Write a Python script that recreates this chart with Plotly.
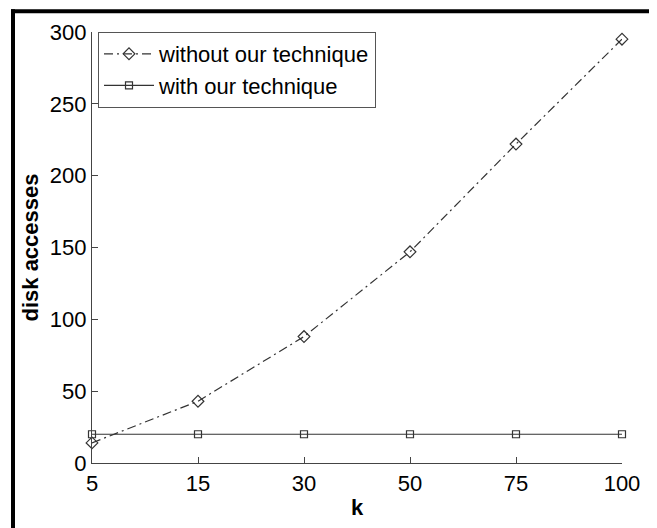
import plotly.graph_objects as go

k_labels = ["5", "15", "30", "50", "75", "100"]
without_vals = [14, 43, 88, 147, 222, 295]
with_vals = [20, 20, 20, 20, 20, 20]
y_ticks = [0, 50, 100, 150, 200, 250, 300]

fig = go.Figure()
fig.add_trace(go.Scatter(
    x=k_labels, y=without_vals, name="without our technique",
    mode="lines+markers",
    line=dict(color="#333333", width=1.2, dash="9px,4px,2px,4px"),
    marker=dict(symbol="diamond-open", size=9, color="#333333", line=dict(width=1.2)),
    cliponaxis=False,
))
fig.add_trace(go.Scatter(
    x=k_labels, y=with_vals, name="with our technique",
    mode="lines+markers",
    line=dict(color="#333333", width=1.2),
    marker=dict(symbol="square-open", size=7, color="#333333", line=dict(width=1.2)),
    cliponaxis=False,
))

# page body has an 8px margin; figure coordinates = screen - 8
OFF = 8
W, H = 657 - OFF, 528 - OFF
L, T = 92 - OFF, 32 - OFF
R, B = W - (622 - OFF), H - (469 - OFF)
pw, ph = W - L - R, H - T - B

def px(x):
    return (x - OFF - L) / pw

def py(y):
    return 1 - (y - OFF - T) / ph

shapes = [
    dict(type="line", xref="paper", yref="paper", x0=px(11), x1=px(653), y0=py(11), y1=py(11),
         line=dict(color="black", width=4)),
    dict(type="line", xref="paper", yref="paper", x0=px(13), x1=px(13), y0=py(9), y1=py(540),
         line=dict(color="black", width=4)),
    dict(type="line", xref="paper", yref="paper", x0=px(651), x1=px(651), y0=py(9), y1=py(540),
         line=dict(color="black", width=2.5)),
]

fig.update_layout(
    width=W, height=H,
    margin=dict(l=L, r=R, t=T, b=B),
    paper_bgcolor="white", plot_bgcolor="white",
    font=dict(family="Liberation Sans, Arial, sans-serif", color="black"),
    shapes=shapes,
    showlegend=True,
    legend=dict(
        x=px(98), y=1, xanchor="left", yanchor="top",
        bgcolor="white", bordercolor="#555555", borderwidth=1,
        font=dict(size=22, color="black"),
        itemwidth=50, tracegroupgap=0,
    ),
    xaxis=dict(
        type="category", range=[0, 5],
        showline=True, linecolor="#444444", linewidth=1.2,
        ticks="inside", ticklen=6, tickcolor="#444444",
        showgrid=False, zeroline=False,
        tickfont=dict(size=22),
        title=dict(text="<b>k</b>", font=dict(size=22), standoff=5),
    ),
    yaxis=dict(
        range=[0, 300], tickvals=y_ticks,
        showline=True, linecolor="#444444", linewidth=1.2,
        ticks="inside", ticklen=6, tickcolor="#444444",
        showgrid=False, zeroline=False,
        tickfont=dict(size=22),
        title=dict(text="<b>disk accesses</b>", font=dict(size=22), standoff=5),
    ),
)

fig.write_html("out.html")
